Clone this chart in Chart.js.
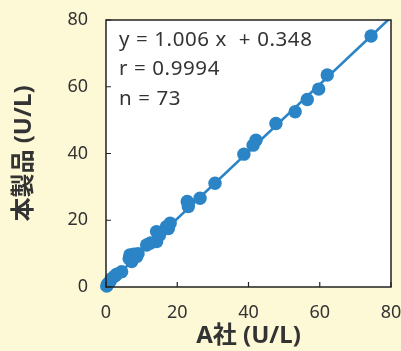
<!DOCTYPE html>
<html><head><meta charset="utf-8">
<script src="https://cdn.jsdelivr.net/npm/chart.js@4/dist/chart.umd.min.js"></script>
<style>html,body{margin:0;padding:0;background:#fdf8d6;}#wrap{width:401px;height:351px;}</style>
</head><body><div id="wrap"><canvas id="c" width="401" height="351"></canvas></div>
<script>
const xValues = [0.2,0.5,1.1,1.5,2.5,3.0,4.4,6.5,6.7,7.2,7.8,8.6,9.0,11.4,12.5,14.2,14.2,15.0,17.0,17.5,18.0,23.1,22.8,23.1,26.4,30.6,38.7,41.3,42.1,47.7,53.1,56.5,59.7,62.1,74.4];
const yValues = [0.3,1.0,1.6,2.5,3.3,3.8,4.6,8.5,9.6,7.6,9.8,9.1,10.0,12.6,13.2,13.6,16.6,15.5,18.1,17.5,19.1,24.1,25.6,25.1,26.6,31.1,39.8,42.5,44.0,49.0,52.5,56.2,59.3,63.5,75.2];
const fitSlope = [1.006];
const fitIntercept = [0.348];
const axisTicks = [0,20,40,60,80];
const statLines = ["y = 1.006 x  + 0.348", "r = 0.9994", "n = 73"];
const xTitle = "A社 (U/L)";
const yTitle = "本製品 (U/L)";

const FONT = "'Noto Sans','Noto Sans CJK JP',sans-serif";
const BLUE = "#2a84c6";

const points = xValues.map((x,i)=>({x:x,y:yValues[i]}));
const lineX = [axisTicks[0], axisTicks[axisTicks.length-1]];
const linePts = lineX.map(x=>({x:x,y:fitSlope[0]*x+fitIntercept[0]}));

const framePlugin = {
  id:'frame',
  beforeDatasetsDraw(chart){
    const {ctx, chartArea:a} = chart;
    ctx.save();
    ctx.fillStyle = '#ffffff';
    ctx.fillRect(a.left,a.top,a.right-a.left,a.bottom-a.top);
    ctx.restore();
  },
  afterDatasetsDraw(chart){
    const {ctx, chartArea:a, scales} = chart;
    ctx.save();
    ctx.strokeStyle = '#222';
    ctx.lineWidth = 1.5;
    ctx.strokeRect(a.left,a.top,a.right-a.left,a.bottom-a.top);
    ctx.lineWidth = 1.2;
    ctx.beginPath();
    axisTicks.forEach(v=>{
      const px = scales.x.getPixelForValue(v);
      ctx.moveTo(px,a.bottom); ctx.lineTo(px,a.bottom-5);
      const py = scales.y.getPixelForValue(v);
      ctx.moveTo(a.left,py); ctx.lineTo(a.left+5,py);
    });
    ctx.stroke();
    ctx.fillStyle = '#333';
    ctx.font = "20.5px " + FONT;
    ctx.letterSpacing = '0.6px';
    ctx.textBaseline = 'middle';
    ctx.textAlign = 'left';
    statLines.forEach((t,i)=>{ ctx.fillText(t, a.left+13, a.top+20+i*29.5); });
    ctx.restore();
  }
};

new Chart(document.getElementById('c'), {
  type:'scatter',
  data:{datasets:[
    {type:'line', data:linePts, borderColor:BLUE, borderWidth:2.6, pointRadius:0, fill:false, order:2},
    {data:points, backgroundColor:BLUE, borderColor:BLUE, pointRadius:6.7, pointHoverRadius:6.7, borderWidth:0, order:1, clip:false}
  ]},
  options:{
    responsive:false, animation:false,
    layout:{padding:{top:20,right:10,left:0,bottom:0}},
    plugins:{legend:{display:false}, tooltip:{enabled:false}},
    scales:{
      x:{type:'linear', min:0, max:80,
        afterBuildTicks(s){ s.ticks = axisTicks.map(v=>({value:v})); },
        afterFit(s){ s.height = 64; s.paddingRight = 0; s.paddingLeft = 0; },
        grid:{display:false, drawTicks:false}, border:{display:false},
        ticks:{color:'#333', font:{size:18, family:FONT}, padding:15, maxRotation:0},
        title:{display:true, text:xTitle, color:'#333', font:{size:24, weight:'bold', family:FONT}, padding:{top:0,bottom:0}}
      },
      y:{type:'linear', min:0, max:80,
        afterBuildTicks(s){ s.ticks = axisTicks.map(v=>({value:v})); },
        afterFit(s){ s.width = 106; s.paddingTop = 0; s.paddingBottom = 0; },
        grid:{display:false, drawTicks:false}, border:{display:false},
        ticks:{color:'#333', font:{size:18, family:FONT}, padding:18},
        title:{display:true, text:yTitle, color:'#333', font:{size:24, weight:'bold', family:FONT}, padding:{top:10,bottom:0}}
      }
    }
  },
  plugins:[framePlugin]
});
</script></body></html>
